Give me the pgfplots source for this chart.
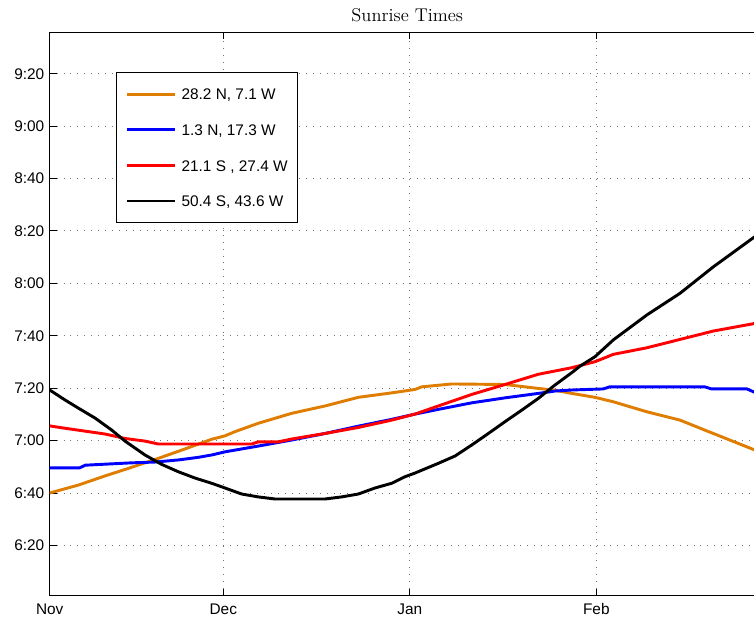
\documentclass[border=0pt]{standalone}
\usepackage{fontspec}
\usepackage{pgfplots}
\pgfplotsset{compat=1.18}
\newfontfamily\arial{Liberation Sans}
\definecolor{sunorange}{RGB}{222,125,0}

% x: days from the start of November; y: sunrise time in minutes after midnight
\pgfplotsset{
  sunframe/.style={
    scale only axis, width=457.8pt, height=366.2pt,
    xmin=0, xmax=117.07, ymin=360.8, ymax=575.8,
    xtick={0,28.86,59.86,90.86},
    ytick={380,400,...,560},
    tick align=inside, major tick length=4.5pt,
    tick style={black, line width=0.6pt},
    axis line style={line width=0.8pt},
    tick label style={font=\arial},
  },
}
\begin{document}
\begin{tikzpicture}
\begin{axis}[
  sunframe, name=main,
  axis x line*=bottom, axis y line*=left,
  xticklabels={Nov,Dec,Jan,Feb},
  yticklabels={6:20,6:40,7:00,7:20,7:40,8:00,8:20,8:40,9:00,9:20},
  xticklabel style={yshift=-1.6pt},
  grid=major,
  major grid style={black!55, line width=0.6pt, dash pattern=on 0.6pt off 3.9pt},
  title={Sunrise Times},
  title style={font=\large, at={(0.5077,1)}, anchor=base, yshift=0.7pt},
  no marks,
  legend cell align=left,
  legend style={at={(0.0937,0.929)}, anchor=north west, draw=black,
    line width=0.7pt, fill=white, font=\arial,
    inner xsep=6.2pt, inner ysep=10.4pt, row sep=15.9pt, column sep=3.6pt,
    nodes={inner sep=0pt, text height=7.2pt, text depth=0pt}},
  legend image code/.code={\draw[#1] (0pt,0pt) -- (30.8pt,0pt);},
]
\addplot[sunorange, line width=1.9pt] table {
0 400.0
4.75 403.0
9.19 406.5
13.63 409.8
18.05 413.2
22.49 416.8
26.93 420.5
29.14 421.8
30.80 423.4
34.67 426.6
40.23 430.4
45.76 433.2
51.30 436.5
56.85 438.2
60.72 439.5
61.84 440.5
66.82 441.6
75.68 441.4
81.22 439.9
83.99 439.2
86.77 438.0
90.64 436.5
93.68 434.8
99.24 431.0
104.77 427.8
109.21 423.7
117.2 416.4
};
\addlegendentry{28.2 N, 7.1 W}
\addplot[blue, line width=1.9pt] table {
0 409.6
5.0 409.6
5.9 410.6
13.6 411.5
17.5 411.8
21.38 412.6
24.70 413.6
26.93 414.5
29.14 415.7
34.67 417.9
40.23 420.2
45.76 422.7
51.30 425.5
56.85 428.1
60.72 430.1
64.59 431.9
70.15 434.4
75.68 436.3
81.22 438.0
83.99 438.9
86.77 439.3
92.0 439.7
93.1 440.5
108.9 440.5
110.0 439.7
115.9 439.7
117.2 438.4
};
\addlegendentry{1.3 N, 17.3 W}
\addplot[red, line width=1.9pt] table {
0 425.6
2.54 424.7
5.87 423.6
9.19 422.5
12.52 420.8
15.84 419.8
18.05 418.7
33.58 418.7
34.67 419.5
38.0 419.5
40.23 420.6
45.76 422.7
51.30 425.0
56.85 427.8
60.72 430.1
64.59 433.2
70.15 437.6
75.68 441.4
81.22 445.3
86.77 447.8
90.64 450.1
93.68 452.9
99.24 455.4
104.77 458.6
110.31 461.8
117.2 464.7
};
\addlegendentry{21.1 S , 27.4 W}
\addplot[black, line width=1.9pt] table {
0 439.3
2.54 435.5
4.75 432.4
7.53 428.6
10.31 424.0
12.52 419.8
15.84 414.5
18.62 410.9
21.38 408.1
24.15 405.7
26.93 403.7
29.14 401.9
31.91 399.6
34.67 398.5
37.45 397.7
45.76 397.7
48.54 398.5
51.30 399.6
54.07 401.9
56.85 403.7
59.06 406.2
60.72 407.6
64.59 411.3
67.37 414.1
70.15 418.3
72.91 422.7
75.68 427.2
78.46 431.6
81.22 436.1
83.99 441.2
86.77 445.9
88.15 448.4
90.64 452.0
93.68 458.4
99.24 467.9
104.77 476.2
110.31 486.3
117.2 497.8
};
\addlegendentry{50.4 S, 43.6 W}
\end{axis}
% upper frame line with its ticks
\begin{axis}[
  sunframe,
  axis x line*=top, axis y line=none,
  xticklabels={},
]
\end{axis}
% white margin around the plot
\pgfresetboundingbox
\path ([xshift=-32.3pt,yshift=-14.95pt]main.south west) rectangle ([yshift=21pt]main.north east);
\end{tikzpicture}
\end{document}
